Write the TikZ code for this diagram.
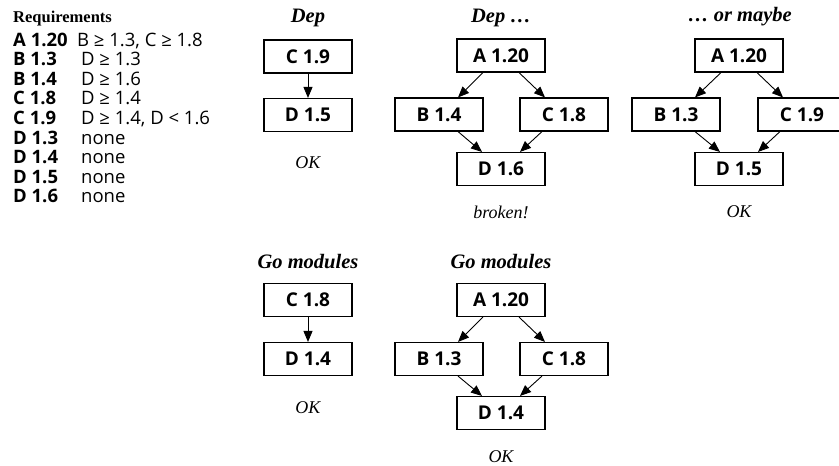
\documentclass[tikz,border=0pt]{standalone}
\usepackage{fontspec}
\setmainfont{Liberation Serif}
\setsansfont{Open Sans}
\usetikzlibrary{arrows.meta,calc}

\begin{document}
\begin{tikzpicture}[x=1pt,y=-1pt,
  pkg/.style={draw,line width=1.1pt,minimum width=88pt,minimum height=33pt,inner sep=0pt,
    font=\sffamily\bfseries\fontsize{19}{22}\selectfont},
  dep/.style={-{Triangle[length=11pt,width=9pt]},line width=0.9pt},
  heading/.style={font=\bfseries\itshape\fontsize{20.5}{24}\selectfont},
  verdict/.style={font=\itshape\fontsize{18}{20}\selectfont},
  reqname/.style={anchor=base west,inner sep=0pt,font=\sffamily\bfseries\fontsize{18.5}{20}\selectfont},
  reqtext/.style={anchor=base west,inner sep=0pt,font=\sffamily\fontsize{18.5}{20}\selectfont}]
\useasboundingbox (0,0) rectangle (839,466);

% requirement table
\node[anchor=base west,inner sep=0pt,font=\bfseries\fontsize{16.5}{20}\selectfont] (req) at (13,22) {Requirements};
\node[reqname] (rA20) at (13,46.0)  {A 1.20};
\node[reqtext] (tA20) at (77,46.0)  {B ≥ 1.3, C ≥ 1.8};
\node[reqname] (rB13) at (13,65.6)  {B 1.3};
\node[reqtext] (tB13) at (81,65.6)  {D ≥ 1.3};
\node[reqname] (rB14) at (13,85.2)  {B 1.4};
\node[reqtext] (tB14) at (81,85.2)  {D ≥ 1.6};
\node[reqname] (rC18) at (13,104.8) {C 1.8};
\node[reqtext] (tC18) at (81,104.8) {D ≥ 1.4};
\node[reqname] (rC19) at (13,124.4) {C 1.9};
\node[reqtext] (tC19) at (81,124.4) {D ≥ 1.4, D < 1.6};
\node[reqname] (rD13) at (13,144.0) {D 1.3};
\node[reqtext] (tD13) at (81,144.0) {none};
\node[reqname] (rD14) at (13,163.6) {D 1.4};
\node[reqtext] (tD14) at (81,163.6) {none};
\node[reqname] (rD15) at (13,183.2) {D 1.5};
\node[reqtext] (tD15) at (81,183.2) {none};
\node[reqname] (rD16) at (13,202.8) {D 1.6};
\node[reqtext] (tD16) at (81,202.8) {none};

% Dep, single chain
\node[heading] (h1) at (308,18) {Dep};
\node[pkg] (p1c) at (308,56.5) {C 1.9};
\node[pkg] (p1d) at (308,115) {D 1.5};
\draw[dep] (p1c) -- (p1d);
\node[verdict] (v1) at (308,163) {OK};

% Dep, diamond
\node[heading] (h2) at (501,18) {Dep …};
\node[pkg] (p2a) at (501,55.5) {A 1.20};
\node[pkg] (p2b) at (439,114.5) {B 1.4};
\node[pkg] (p2c) at (564,114.5) {C 1.8};
\node[pkg] (p2d) at (501,169) {D 1.6};
\draw[dep] ($(p2a.south)+(-18,0)$) -- ($(p2b.north)+(19,0)$);
\draw[dep] ($(p2a.south)+(18,0)$) -- ($(p2c.north)+(-19,0)$);
\draw[dep] ($(p2b.south)+(19,0)$) -- ($(p2d.north)+(-19,0)$);
\draw[dep] ($(p2c.south)+(-22,0)$) -- ($(p2d.north)+(19,0)$);
\node[verdict] (v2) at (501,212) {broken!};

% alternative resolution
\node[heading] (h3) at (740,17) {… or maybe};
\node[pkg] (p3a) at (739,55.5) {A 1.20};
\node[pkg] (p3b) at (676,114.5) {B 1.3};
\node[pkg] (p3c) at (802,114.5) {C 1.9};
\node[pkg] (p3d) at (739,169) {D 1.5};
\draw[dep] ($(p3a.south)+(-18,0)$) -- ($(p3b.north)+(19,0)$);
\draw[dep] ($(p3a.south)+(18,0)$) -- ($(p3c.north)+(-19,0)$);
\draw[dep] ($(p3b.south)+(19,0)$) -- ($(p3d.north)+(-19,0)$);
\draw[dep] ($(p3c.south)+(-22,0)$) -- ($(p3d.north)+(19,0)$);
\node[verdict] (v3) at (739,212) {OK};

% Go modules, single chain
\node[heading] (h4) at (308,262) {Go modules};
\node[pkg] (p4c) at (308,300) {C 1.8};
\node[pkg] (p4d) at (308,359) {D 1.4};
\draw[dep] (p4c) -- (p4d);
\node[verdict] (v4) at (308,408) {OK};

% Go modules, diamond
\node[heading] (h5) at (501,262) {Go modules};
\node[pkg] (p5a) at (501,300) {A 1.20};
\node[pkg] (p5b) at (439,359) {B 1.3};
\node[pkg] (p5c) at (564,359) {C 1.8};
\node[pkg] (p5d) at (501,413) {D 1.4};
\draw[dep] ($(p5a.south)+(-18,0)$) -- ($(p5b.north)+(19,0)$);
\draw[dep] ($(p5a.south)+(18,0)$) -- ($(p5c.north)+(-19,0)$);
\draw[dep] ($(p5b.south)+(19,0)$) -- ($(p5d.north)+(-19,0)$);
\draw[dep] ($(p5c.south)+(-22,0)$) -- ($(p5d.north)+(19,0)$);
\node[verdict] (v5) at (501,457) {OK};
\end{tikzpicture}
\end{document}
